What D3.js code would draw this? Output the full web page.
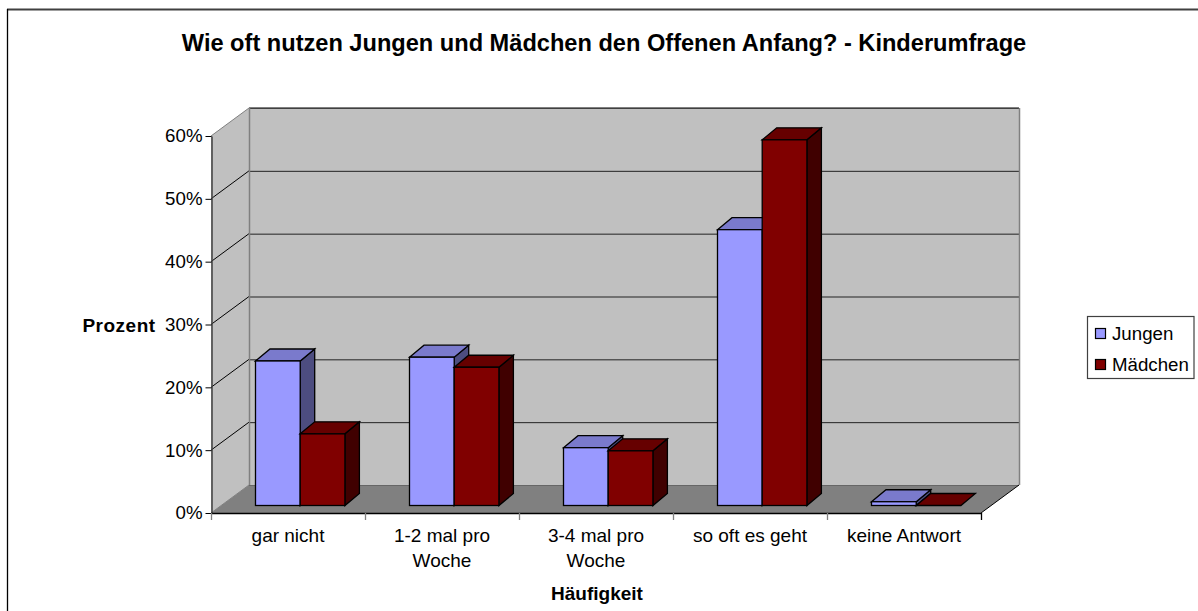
<!DOCTYPE html>
<html><head><meta charset="utf-8">
<script src="https://cdn.jsdelivr.net/npm/d3@7"></script>
<style>html,body{margin:0;padding:0;background:#fff}svg{display:block}text{font-family:"Liberation Sans",Arial,sans-serif;fill:#000}</style>
</head><body><svg id="c" width="1198" height="611"></svg>
<script>
const categories=["gar nicht","1-2 mal pro Woche","3-4 mal pro Woche","so oft es geht","keine Antwort"];
const jungen=[23,23.6,9.2,43.9,0.6];
const maedchen=[11.4,22,8.7,58.2,0];
const seriesNames=["Jungen","Mädchen"];
const tickValues=[0,10,20,30,40,50,60];
const colors=[{front:"#9999ff",top:"#7a7acc",side:"#4d4d80"},{front:"#800000",top:"#660000",side:"#400000"}];

const svg=d3.select("#c");
const L=211,R=981,B=513,T=136,DX=38,DY=28;
const x=d3.scaleBand().domain(categories).range([L,R]);
const y=d3.scaleLinear().domain([0,60]).range([B,T]);

// chart frame: only top and left edges are inside the picture
svg.append("line").attr("x1",7).attr("y1",9.5).attr("x2",1198).attr("y2",9.5).attr("stroke","#404040").attr("stroke-width",2);
svg.append("line").attr("x1",7.5).attr("y1",9).attr("x2",7.5).attr("y2",611).attr("stroke","#000").attr("stroke-width",1.3);
svg.append("text").attr("x",604).attr("y",51).attr("text-anchor","middle").attr("font-weight","bold").attr("font-size",23.6).text("Wie oft nutzen Jungen und Mädchen den Offenen Anfang? - Kinderumfrage");

const poly=(pts,fill,stroke,w)=>svg.append("polygon").attr("points",pts.map(p=>p.join(",")).join(" ")).attr("fill",fill).attr("stroke",stroke||"none").attr("stroke-width",w||1);
// walls
poly([[L+DX,T-DY],[R+DX,T-DY],[R+DX,B-DY],[L+DX,B-DY]],"#c0c0c0");
poly([[L,T],[L+DX,T-DY],[L+DX,B-DY],[L,B]],"#c0c0c0");
poly([[L,B],[L+DX,B-DY],[R+DX,B-DY],[R,B]],"#808080");
// gridlines
tickValues.forEach(v=>{
  const yy=y(v);
  if(v>0){
    svg.append("line").attr("x1",L).attr("y1",yy).attr("x2",L+DX).attr("y2",yy-DY).attr("stroke",v===60?"#808080":"#000");
    svg.append("line").attr("x1",L+DX).attr("y1",yy-DY+.5).attr("x2",R+DX).attr("y2",yy-DY+.5).attr("stroke",v===60?"#404040":"#222");
  }
});
svg.append("line").attr("x1",L+DX+.5).attr("y1",T-DY).attr("x2",L+DX+.5).attr("y2",B-DY).attr("stroke","#808080").attr("stroke-width",1.5);
svg.append("line").attr("x1",R+DX+.5).attr("y1",T-DY).attr("x2",R+DX+.5).attr("y2",B-DY).attr("stroke","#808080").attr("stroke-width",1.5);
svg.append("line").attr("x1",L+DX).attr("y1",T-DY-.5).attr("x2",R+DX).attr("y2",T-DY-.5).attr("stroke","#808080");
svg.append("line").attr("x1",L+DX).attr("y1",B-DY+.5).attr("x2",R+DX).attr("y2",B-DY+.5).attr("stroke","#666");
svg.append("line").attr("x1",R).attr("y1",B).attr("x2",R+DX).attr("y2",B-DY).attr("stroke","#000");
svg.append("line").attr("x1",L).attr("y1",B).attr("x2",L+DX).attr("y2",B-DY).attr("stroke","#808080");

// bars
const barOffX=10,barOffY=7.5,depthX=14.5,depthY=12,barW=44.7,inset=34.5;
[jungen,maedchen].forEach((vals,s)=>{
  vals.forEach((v,i)=>{
    const x0=x(categories[i])+barOffX+inset+s*barW,x1=x0+barW;
    const yb=y(0)-barOffY,yt=y(v)-barOffY;
    const c=colors[s];
    if(s===1&&v===0){
      poly([[x0,yb],[x0+depthX,yb-depthY],[x1+depthX,yb-depthY],[x1,yb]],c.top,"#000",1.3);
      return;
    }
    poly([[x1,yt],[x1+depthX,yt-depthY],[x1+depthX,yb-depthY],[x1,yb]],c.side,"#000",1.3);
    poly([[x0,yt],[x0+depthX,yt-depthY],[x1+depthX,yt-depthY],[x1,yt]],c.top,"#000",1.3);
    svg.append("rect").attr("x",x0).attr("y",yt).attr("width",barW).attr("height",yb-yt).attr("fill",c.front).attr("stroke","#000").attr("stroke-width",1.3);
  });
});

// axes
const yAxis=d3.axisLeft(y).tickValues(tickValues).tickFormat(d=>d+"%").tickSize(6).tickSizeOuter(0).tickPadding(3);
const ga=svg.append("g").attr("transform",`translate(${L+.5},0)`).call(yAxis);
ga.selectAll("text").attr("font-size",18.7);
ga.selectAll("path").attr("stroke","#404040").attr("stroke-width",1.5);
ga.selectAll("line").attr("stroke","#000");
const xAxisLine=svg.append("g");
xAxisLine.append("line").attr("x1",L).attr("x2",R).attr("y1",B+.5).attr("y2",B+.5).attr("stroke","#000").attr("stroke-width",1.3);
const xticks=[...categories.map(c=>x(c)),R];
xticks.forEach((t,i)=>xAxisLine.append("line").attr("x1",t+.5).attr("x2",t+.5).attr("y1",B).attr("y2",B+7).attr("stroke",i===5?"#000":"#808080").attr("stroke-width",1.3));
const catLines=[["gar nicht"],["1-2 mal pro","Woche"],["3-4 mal pro","Woche"],["so oft es geht"],["keine Antwort"]];
categories.forEach((c,i)=>{
  const t=svg.append("text").attr("text-anchor","middle").attr("font-size",19);
  catLines[i].forEach((ln,j)=>t.append("tspan").attr("x",x(c)+x.bandwidth()/2).attr("y",542+j*25).text(ln));
});
svg.append("text").attr("x",597).attr("y",600).attr("text-anchor","middle").attr("font-weight","bold").attr("font-size",19).text("Häufigkeit");
svg.append("text").attr("x",119).attr("y",332).attr("text-anchor","middle").attr("font-weight","bold").attr("font-size",19).attr("letter-spacing",.5).text("Prozent");

// legend
svg.append("rect").attr("x",1087.5).attr("y",316.5).attr("width",106.5).attr("height",62).attr("fill","#fff").attr("stroke","#404040").attr("stroke-width",1.2);
seriesNames.forEach((n,i)=>{
  const yy=328.5+i*31;
  svg.append("rect").attr("x",1095.5).attr("y",yy).attr("width",10).attr("height",10).attr("fill",colors[i].front).attr("stroke","#000").attr("stroke-width",1.2);
  svg.append("text").attr("x",1112).attr("y",yy+11).attr("font-size",18.7).text(n);
});
</script></body></html>
